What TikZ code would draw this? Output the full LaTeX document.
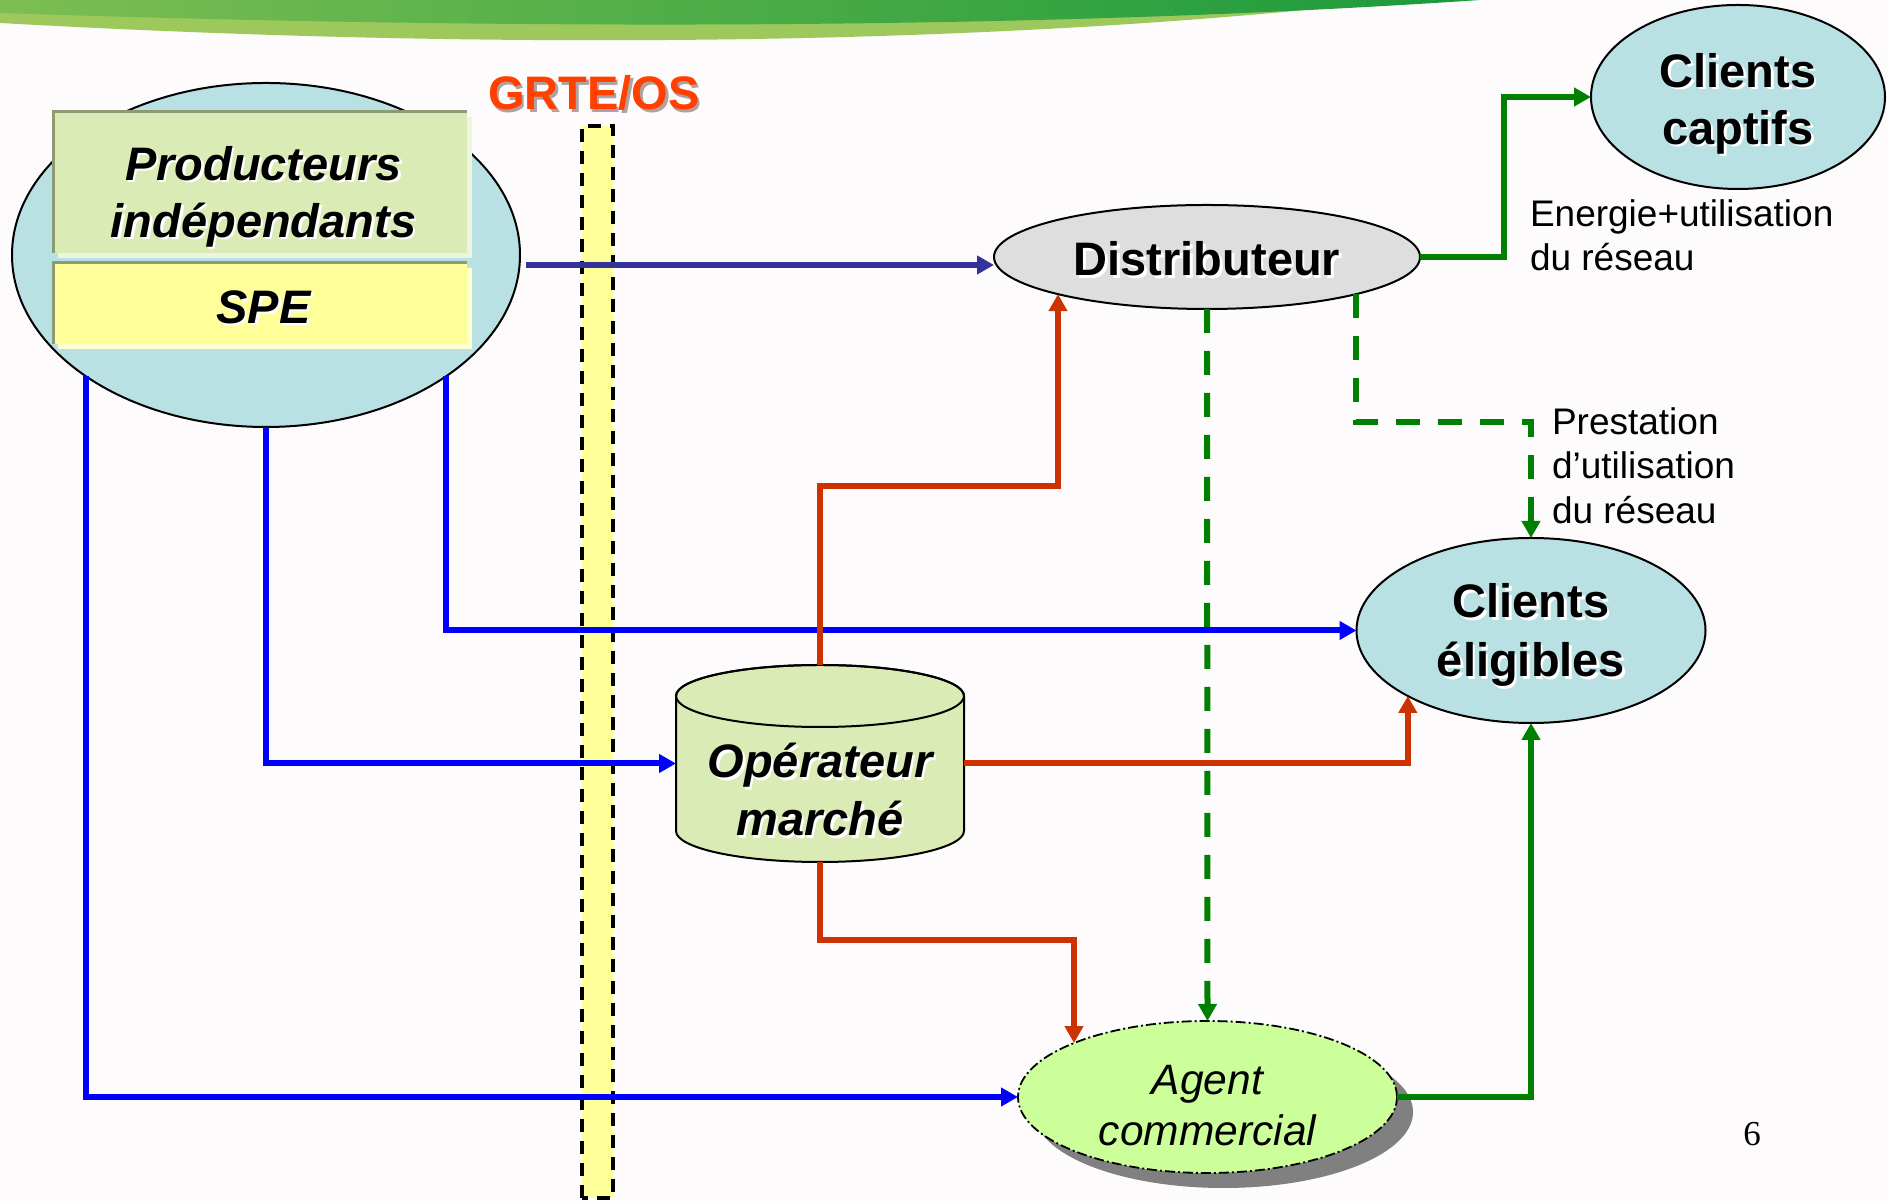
\documentclass[tikz,border=0pt]{standalone}
\usepackage{fontspec}
\setmainfont{Liberation Sans}
\newfontfamily\numfont{Liberation Serif}
\usetikzlibrary{arrows.meta,shapes.geometric,shadows,calc}
\definecolor{bgc}{HTML}{FDFBFC}
\definecolor{lblue}{HTML}{B9E0E3}
\definecolor{olivef}{HTML}{DAEBB5}
\definecolor{yelf}{HTML}{FFFF99}
\definecolor{distf}{HTML}{DEDEDE}
\definecolor{agentf}{HTML}{CCFF99}
\definecolor{cNavy}{HTML}{333399}
\definecolor{cBlue}{HTML}{0000FF}
\definecolor{cRed}{HTML}{CC3300}
\definecolor{cGreen}{HTML}{008000}
\definecolor{grte}{HTML}{FF4000}
\definecolor{tshadow}{HTML}{FFFFFF}
\definecolor{gshadow}{HTML}{B0A0A0}
\definecolor{bevel}{HTML}{8E9A72}
\definecolor{gDarkA}{HTML}{7CBE52}
\definecolor{gDarkB}{HTML}{1B9A3C}
\definecolor{gLight}{HTML}{9DC95C}
\definecolor{shgray}{HTML}{808080}
\definecolor{pglow}{HTML}{EEF5DE}
\definecolor{sglow}{HTML}{FFFFD2}

\newcommand\shtext[5][tshadow]{%
  \node[#4, text=#1] (#3s) at ([shift={(2.5,-2.5)}]#2) {#5};
  \node[#4] (#3) at (#2) {#5};}

\begin{document}
\begin{tikzpicture}[x=1pt,y=1pt,
  every node/.style={inner sep=0pt, outer sep=0pt},
  ell/.style={ellipse, draw=black, line width=2pt},
  lbl/.style={font=\fontsize{37}{44.5}\selectfont, align=left, anchor=west},
  bigb/.style={font=\fontsize{47}{57}\selectfont\bfseries, align=center},
  bigbi/.style={font=\fontsize{47}{57}\selectfont\bfseries\itshape, align=center},
  conn/.style={line width=6pt, -{Triangle[length=17pt,width=18pt]}},
  dashc/.style={dash pattern=on 24pt off 18pt}]
\useasboundingbox (0,0) rectangle (1887,1201);
\fill[bgc] (0,0) rectangle (1887,1201);
% banner
\fill[gLight] (0,1201) -- (0,1178) .. controls (500,1150) and (1000,1155) .. (1400,1201) -- cycle;
\shade[left color=gDarkA, right color=gDarkB] (0,1201) -- (0,1188) .. controls (600,1168) and (1100,1175) .. (1480,1201) -- cycle;
% GRTE bar
\draw[fill=yelf, line width=4pt, dash pattern=on 13pt off 9pt] (582,3) rectangle (613,1075);
\shtext[gshadow]{594,1108}{grtet}{font=\fontsize{47}{56}\selectfont\bfseries, text=grte}{GRTE/OS}
% producers
\node[ell, fill=lblue, minimum width=508, minimum height=344] (prod) at (266,946) {};
\fill[pglow] (58,943) rectangle (472,1084);
\node[fill=olivef, minimum width=414, minimum height=141] (pbox) at (260,1018.5) {};
\draw[bevel, line width=3pt] (pbox.south west) |- (pbox.north east);
\fill[sglow] (58,852) rectangle (472,933);
\node[fill=yelf, minimum width=414, minimum height=81] (sbox) at (260,897.5) {};
\draw[bevel, line width=3pt] (sbox.south west) |- (sbox.north east);
\shtext{263.5,1004.5}{ptxt}{bigbi}{Producteurs\\indépendants}
\shtext{263.5,894}{stxt}{bigbi}{SPE}
% distributeur
\node[ell, fill=distf, minimum width=426, minimum height=104] (dist) at (1207,944) {};
\shtext{1207,942}{dtxt}{bigb}{Distributeur}
% clients
\node[ell, fill=lblue, minimum width=294, minimum height=184] (capt) at (1738,1104) {};
\shtext{1738,1097.5}{ctxt}{bigb}{Clients\\captifs}
\node[ell, fill=lblue, minimum width=349, minimum height=185] (elig) at (1531,570.5) {};
\shtext{1531,566}{etxt}{bigb, font=\fontsize{47}{59}\selectfont\bfseries}{Clients\\éligibles}
% operateur
\node[minimum width=288, minimum height=197] (op) at (820,437.5) {};
\filldraw[fill=olivef, draw=black, line width=2pt] ([yshift=31]op.south west) arc[start angle=180, end angle=360, x radius=144, y radius=31] -- ([yshift=-31]op.north east) arc[start angle=0, end angle=180, x radius=144, y radius=31] -- cycle;
\draw[line width=2pt] ([yshift=-31]op.north) ellipse [x radius=144, y radius=31];
\shtext{820,411}{otxt}{bigbi, font=\fontsize{47}{58}\selectfont\bfseries\itshape}{Opérateur\\marché}
% agent
\node[ellipse, draw=black, line width=1.8pt, dash pattern=on 10pt off 3pt on 2pt off 3pt, fill=agentf, minimum width=379, minimum height=152, drop shadow={shadow xshift=16pt, shadow yshift=-15pt, fill=shgray, opacity=1}] (agent) at (1207.5,104) {};
\node[font=\fontsize{42.5}{51}\selectfont\itshape, align=center] (atxt) at (1207.5,95.5) {Agent\\commercial};
% labels
\node[lbl] (lab1) at (1530,965.5) {Energie+utilisation\\du réseau};
\node[lbl] (lab2) at (1552,735.5) {Prestation\\d’utilisation\\du réseau};
\node[font=\numfont\fontsize{35}{40}\selectfont] (pg) at (1752,67) {6};
% connectors
\coordinate (navys) at ([shift={(6,-10)}]prod.east);
\draw[conn, cNavy] (navys) -- (navys -| dist.west);
\draw[conn, cBlue] (prod.214) |- (agent.west);
\draw[conn, cBlue] (prod.south) |- (op.west);
\draw[conn, cBlue] (prod.326) |- (elig.west);
\draw[conn, cRed] (op.north) -- ++(0,179) -| (dist.194);
\draw[conn, cRed] (op.east) -| (elig.208);
\draw[conn, cRed] (op.south) -- ++(0,-78) -| (agent.158);
\draw[conn, cGreen, dashc] (dist.south) -- (agent.north);
\draw[conn, cGreen, dashc] (dist.-14) -- ++(0,-128) -| (elig.north);
\draw[conn, cGreen] (dist.east) -- ++(84,0) |- (capt.west);
\draw[conn, cGreen] (agent.east) -| (elig.south);
\end{tikzpicture}
\end{document}
